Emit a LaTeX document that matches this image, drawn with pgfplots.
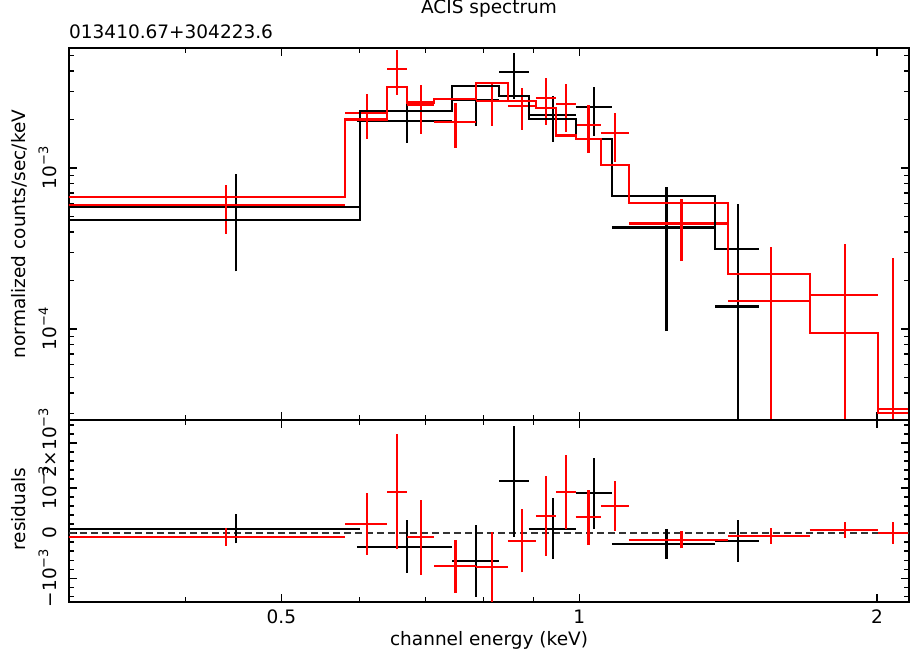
\documentclass[border=0pt]{standalone}
\usepackage{fontspec}
\setmainfont{DejaVu Sans}
\usepackage{pgfplots}
\usepackage{pgfplotstable}
\pgfplotsset{compat=1.18}

\newcommand{\ex}[1]{\raisebox{0.45em}{\fontsize{13}{13}\selectfont #1}}
\newcommand{\tenm}[1]{10\ex{−#1}}

% each data cross: bin edges at the flux (y) and residual (r, units of 1e-3),
% then the error range at the bin centre; nan rows break the line
\pgfplotstableread{
x y r
0.30 5.87e-4 -0.08
0.58 5.87e-4 -0.08
nan nan nan
0.44 3.91e-4 -0.28
0.44 7.83e-4 0.12
nan nan nan
0.58 2.2e-3 0.2
0.64 2.2e-3 0.2
nan nan nan
0.61 1.52e-3 -0.48
0.61 2.88e-3 0.88
nan nan nan
0.64 4.12e-3 0.92
0.67 4.12e-3 0.92
nan nan nan
0.655 2.84e-3 -0.36
0.655 5.40e-3 2.20
nan nan nan
0.67 2.46e-3 -0.09
0.714 2.46e-3 -0.09
nan nan nan
0.692 1.63e-3 -0.92
0.692 3.29e-3 0.74
nan nan nan
0.714 1.93e-3 -0.74
0.786 1.93e-3 -0.74
nan nan nan
0.75 1.34e-3 -1.33
0.75 2.52e-3 -0.15
nan nan nan
0.786 2.61e-3 -0.75
0.847 2.61e-3 -0.75
nan nan nan
0.8165 1.83e-3 -1.53
0.8165 3.39e-3 0.03
nan nan nan
0.847 2.43e-3 -0.17
0.904 2.43e-3 -0.17
nan nan nan
0.8755 1.73e-3 -0.87
0.8755 3.13e-3 0.53
nan nan nan
0.904 2.73e-3 0.38
0.947 2.73e-3 0.38
nan nan nan
0.9255 1.85e-3 -0.50
0.9255 3.61e-3 1.26
nan nan nan
0.947 2.50e-3 0.91
0.992 2.50e-3 0.91
nan nan nan
0.9695 1.67e-3 0.08
0.9695 3.33e-3 1.74
nan nan nan
0.992 1.85e-3 0.35
1.052 1.85e-3 0.35
nan nan nan
1.022 1.24e-3 -0.26
1.022 2.46e-3 0.96
nan nan nan
1.052 1.64e-3 0.6
1.123 1.64e-3 0.6
nan nan nan
1.0875 1.09e-3 0.05
1.0875 2.19e-3 1.15
nan nan nan
1.123 4.52e-4 -0.15
1.415 4.52e-4 -0.15
nan nan nan
1.269 2.64e-4 -0.338
1.269 6.40e-4 0.038
nan nan nan
1.415 1.49e-4 -0.07
1.71 1.49e-4 -0.07
nan nan nan
1.5625 1e-6 -0.242
1.5625 3.21e-4 0.102
nan nan nan
1.71 1.63e-4 0.07
2.005 1.63e-4 0.07
nan nan nan
1.8575 1e-6 -0.103
1.8575 3.36e-4 0.243
nan nan nan
2.005 3.2e-5 0.01
2.15 3.2e-5 0.01
nan nan nan
2.0775 1e-6 -0.233
2.0775 2.75e-4 0.253
}\reddata

\pgfplotstableread{
x y r
0.30 5.73e-4 0.1
0.60 5.73e-4 0.1
nan nan nan
0.45 2.28e-4 -0.23
0.45 9.18e-4 0.43
nan nan nan
0.596 1.97e-3 -0.3
0.744 1.97e-3 -0.3
nan nan nan
0.67 1.43e-3 -0.88
0.67 2.51e-3 0.28
nan nan nan
0.744 2.63e-3 -0.61
0.83 2.63e-3 -0.61
nan nan nan
0.787 1.82e-3 -1.41
0.787 3.44e-3 0.19
nan nan nan
0.83 3.95e-3 1.15
0.889 3.95e-3 1.15
nan nan nan
0.8595 2.70e-3 -0.08
0.8595 5.20e-3 2.38
nan nan nan
0.889 2.12e-3 0.1
0.992 2.12e-3 0.1
nan nan nan
0.9405 1.46e-3 -0.58
0.9405 2.78e-3 0.78
nan nan nan
0.992 2.39e-3 0.88
1.079 2.39e-3 0.88
nan nan nan
1.0355 1.58e-3 0.09
1.0355 3.20e-3 1.67
nan nan nan
1.079 4.27e-4 -0.25
1.372 4.27e-4 -0.25
nan nan nan
1.2255 9.7e-5 -0.58
1.2255 7.57e-4 0.08
nan nan nan
1.372 1.38e-4 -0.18
1.52 1.38e-4 -0.18
nan nan nan
1.446 1e-6 -0.64
1.446 5.98e-4 0.28
}\blackdata

\pgfplotsset{
  spec/.style={
    scale only axis, width=840pt,
    xmin=0.305, xmax=2.155,
    axis line style={line width=2pt},
    tick style={line width=1.2pt, black},
    major tick length=8pt, minor tick length=5pt,
    tick align=inside,
    xtick={0.5,1,2}, minor xtick={0.4,0.6,0.7,0.8,0.9},
    tick label style={font=\fontsize{18.5}{22}\selectfont},
    yticklabel style={rotate=90, anchor=south, inner sep=12pt},
    unbounded coords=jump,
  },
  cross/.style={#1, mark=none, line width=2.1pt},
}

\begin{document}
\begin{tikzpicture}
\path[use as bounding box] (0pt,0pt) rectangle (910pt,657pt);

\begin{axis}[xmode=log, ymode=log, spec, at={(69pt,237pt)}, anchor=south west, height=372pt,
  ymin=2.72e-5, ymax=5.56e-3,
  xticklabels={},
  ytick={1e-4,1e-3}, yticklabels={\tenm4,\tenm3},
  minor ytick={3e-5,4e-5,5e-5,6e-5,7e-5,8e-5,9e-5,2e-4,3e-4,4e-4,5e-4,6e-4,7e-4,8e-4,9e-4,2e-3,3e-3,4e-3,5e-3}]
\addplot[cross=black] table[x=x, y=y] {\blackdata};
\addplot[cross=red] table[x=x, y=y] {\reddata};
\addplot[const plot, black, line width=2.1pt] coordinates {
  (0.3,4.75e-4) (0.6,2.27e-3) (0.744,3.24e-3) (0.83,2.80e-3) (0.889,2.02e-3)
  (0.992,1.51e-3) (1.079,6.73e-4) (1.372,3.15e-4) (1.52,3.15e-4)};
\addplot[const plot, red, line width=2.1pt] coordinates {
  (0.3,6.64e-4) (0.58,2.0e-3) (0.64,3.20e-3) (0.67,2.55e-3) (0.714,2.67e-3)
  (0.786,3.36e-3) (0.847,2.61e-3) (0.904,2.35e-3) (0.947,1.59e-3) (0.992,1.51e-3)
  (1.052,1.04e-3) (1.123,6.03e-4) (1.415,2.2e-4) (1.71,9.4e-5) (2.005,3.0e-5) (2.15,3.0e-5)};
\end{axis}

\begin{axis}[xmode=log, spec, at={(69pt,55pt)}, anchor=south west, height=182pt,
  ymin=-1.53, ymax=2.51,
  xticklabels={0.5,1,2},
  ytick={-1,0,1,2}, yticklabels={−\tenm3,0,\tenm3,2×\tenm3},
  minor ytick={-1.4,-1.2,-0.8,-0.6,-0.4,-0.2,0.2,0.4,0.6,0.8,1.2,1.4,1.6,1.8,2.2,2.4},
  xticklabel style={yshift=-4pt}]
\addplot[black!80, line width=1.8pt, dash pattern=on 7pt off 4pt] coordinates {(0.305,0) (2.155,0)};
\addplot[cross=black] table[x=x, y=r] {\blackdata};
\addplot[cross=red] table[x=x, y=r] {\reddata};
\end{axis}

\begin{scope}[font=\fontsize{18.5}{22}\selectfont]
\node[anchor=base] at (489pt,643pt) {ACIS spectrum};
\node[anchor=base west, inner sep=0pt] at (69pt,618pt) {013410.67+304223.6};
\node[anchor=base] at (489pt,12pt) {channel energy (keV)};
\node[rotate=90] at (19pt,423pt) {normalized counts/sec/keV};
\node[rotate=90] at (19pt,148pt) {residuals};
\end{scope}
\end{tikzpicture}
\end{document}
